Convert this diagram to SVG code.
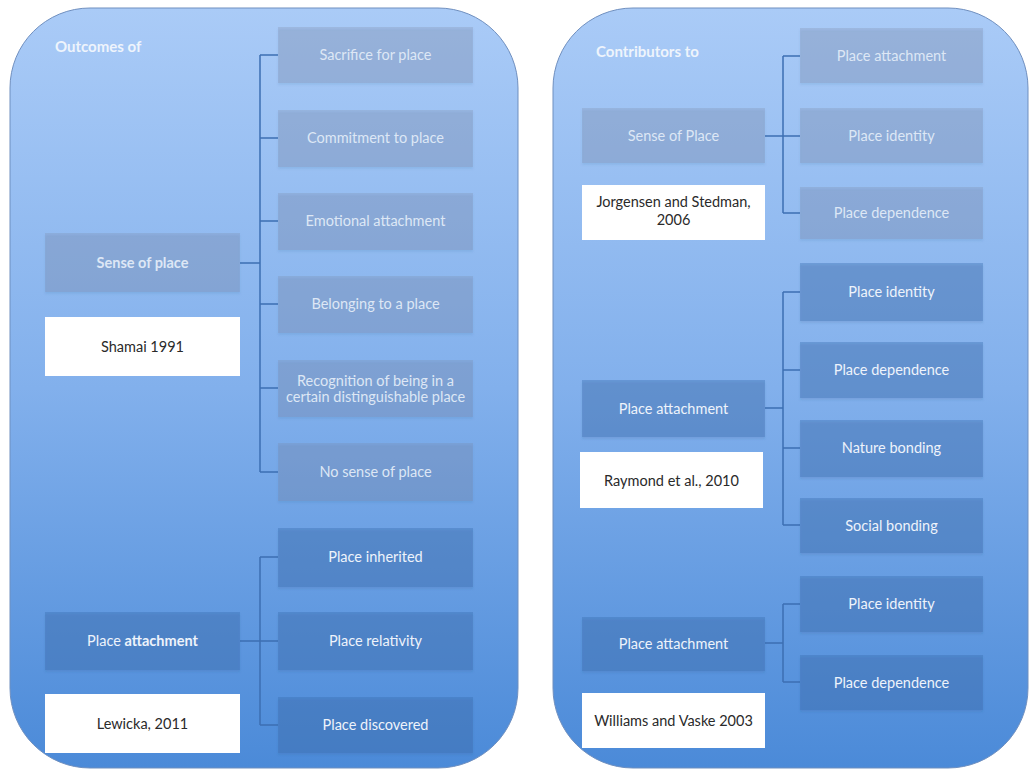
<svg xmlns="http://www.w3.org/2000/svg" width="1030" height="769" viewBox="0 0 1030 769">
  <defs>
    <linearGradient id="panelFill" x1="0" y1="0" x2="0" y2="1">
      <stop offset="0" stop-color="#aacbf7"/>
      <stop offset="0.5" stop-color="#82b0ec"/>
      <stop offset="1" stop-color="#4b8ad8"/>
    </linearGradient>
    <filter id="shadow" x="-5%" y="-10%" width="110%" height="130%">
      <feDropShadow dx="0" dy="2" stdDeviation="1.2" flood-color="#2c4f80" flood-opacity="0.35"/>
    </filter>
    <style>
      .panel { fill: url(#panelFill); stroke: #6f8fbf; stroke-width: 1; }
      .title { font-family: Lato, "Liberation Sans", sans-serif; font-size: 15px; font-weight: bold; fill: #eef4fc; }
      .faded rect { fill: #78829f; fill-opacity: 0.25; filter: url(#shadow); }
      .faded text { fill: #dde7f5; }
      .dark rect { fill: #3c6eaf; fill-opacity: 0.38; filter: url(#shadow); }
      .dark text { fill: #eef3fb; }
      .ref rect { fill: #ffffff; }
      .ref text { fill: #2a2a2a; }
      text { font-family: Lato, "Liberation Sans", sans-serif; font-size: 14.5px; text-anchor: middle; }
      .conn { fill: none; stroke: #3d6fb3; stroke-width: 1.5; }
    </style>
  </defs>

  <rect width="1030" height="769" fill="#ffffff"/>

  <!-- panels -->
  <rect class="panel" x="10" y="8" width="508" height="760" rx="80" ry="80"/>
  <rect class="panel" x="553" y="8" width="475" height="760" rx="80" ry="80"/>

  <text class="title" x="55" y="52" style="text-anchor:start">Outcomes of</text>
  <text class="title" x="596" y="57" style="text-anchor:start">Contributors to</text>

  <!-- connectors -->
  <g id="connectors">
    <path class="conn" d="M240 263 H260 M260 55 V472 M260 55 H278 M260 138 H278 M260 221 H278 M260 304 H278 M260 388 H278 M260 472 H278"/>
    <path class="conn" d="M240 641 H278 M260 557 V725 M260 557 H278 M260 725 H278"/>
    <path class="conn" d="M765 136 H800 M783 56 V213 M783 56 H800 M783 213 H800"/>
    <path class="conn" d="M765 408 H783 M783 292 V525 M783 292 H800 M783 370 H800 M783 448 H800 M783 525 H800"/>
    <path class="conn" d="M765 643 H783 M783 604 V682 M783 604 H800 M783 682 H800"/>
  </g>

  <!-- left panel: sense of place outcomes -->
  <g id="sense-of-place-left" class="faded"><rect x="45" y="233" width="195" height="59"/><text x="142.5" y="268" style="font-weight:bold">Sense of place</text></g>
  <g id="shamai" class="ref"><rect x="45" y="317" width="195" height="59"/><text x="142.5" y="352">Shamai 1991</text></g>
  <g id="sacrifice" class="faded"><rect x="278" y="27" width="195" height="56"/><text x="375.5" y="60">Sacrifice for place</text></g>
  <g id="commitment" class="faded"><rect x="278" y="110" width="195" height="57"/><text x="375.5" y="143">Commitment to place</text></g>
  <g id="emotional" class="faded"><rect x="278" y="193" width="195" height="57"/><text x="375.5" y="226">Emotional attachment</text></g>
  <g id="belonging" class="faded"><rect x="278" y="276" width="195" height="57"/><text x="375.5" y="309">Belonging to a place</text></g>
  <g id="recognition" class="faded"><rect x="278" y="360" width="195" height="57"/><text x="375.5" y="386">Recognition of being in a</text><text x="375.5" y="402">certain distinguishable place</text></g>
  <g id="no-sense" class="faded"><rect x="278" y="443" width="195" height="58"/><text x="375.5" y="477">No sense of place</text></g>

  <!-- left panel: place attachment outcomes -->
  <g id="place-attachment-left" class="dark"><rect x="45" y="612" width="195" height="58"/><text x="142.5" y="646">Place <tspan style="font-weight:bold">attachment</tspan></text></g>
  <g id="lewicka" class="ref"><rect x="45" y="694" width="195" height="59"/><text x="142.5" y="729">Lewicka, 2011</text></g>
  <g id="inherited" class="dark"><rect x="278" y="528" width="195" height="59"/><text x="375.5" y="562">Place inherited</text></g>
  <g id="relativity" class="dark"><rect x="278" y="612" width="195" height="58"/><text x="375.5" y="646">Place relativity</text></g>
  <g id="discovered" class="dark"><rect x="278" y="697" width="195" height="56"/><text x="375.5" y="730">Place discovered</text></g>

  <!-- right panel: sense of place contributors -->
  <g id="sense-of-place-right" class="faded"><rect x="582" y="108" width="183" height="55"/><text x="673.5" y="141">Sense of Place</text></g>
  <g id="jorgensen" class="ref"><rect x="582" y="185" width="183" height="55"/><text x="673.5" y="207">Jorgensen and Stedman,</text><text x="673.5" y="225">2006</text></g>
  <g id="attachment-top" class="faded"><rect x="800" y="28" width="183" height="55"/><text x="891.5" y="61">Place attachment</text></g>
  <g id="identity-top" class="faded"><rect x="800" y="108" width="183" height="55"/><text x="891.5" y="141">Place identity</text></g>
  <g id="dependence-top" class="faded"><rect x="800" y="187" width="183" height="52"/><text x="891.5" y="218">Place dependence</text></g>

  <!-- right panel: place attachment contributors (Raymond) -->
  <g id="place-attachment-mid" class="dark"><rect x="582" y="380" width="183" height="57"/><text x="673.5" y="414">Place attachment</text></g>
  <g id="raymond" class="ref"><rect x="580" y="452" width="183" height="56"/><text x="671.5" y="486">Raymond et al., 2010</text></g>
  <g id="identity-mid" class="dark"><rect x="800" y="263" width="183" height="58"/><text x="891.5" y="297">Place identity</text></g>
  <g id="dependence-mid" class="dark"><rect x="800" y="342" width="183" height="56"/><text x="891.5" y="375">Place dependence</text></g>
  <g id="nature" class="dark"><rect x="800" y="420" width="183" height="57"/><text x="891.5" y="453">Nature bonding</text></g>
  <g id="social" class="dark"><rect x="800" y="498" width="183" height="55"/><text x="891.5" y="531">Social bonding</text></g>

  <!-- right panel: place attachment contributors (Williams and Vaske) -->
  <g id="place-attachment-bottom" class="dark"><rect x="582" y="617" width="183" height="54"/><text x="673.5" y="649">Place attachment</text></g>
  <g id="williams" class="ref"><rect x="582" y="693" width="183" height="55"/><text x="673.5" y="726">Williams and Vaske 2003</text></g>
  <g id="identity-bottom" class="dark"><rect x="800" y="576" width="183" height="56"/><text x="891.5" y="609">Place identity</text></g>
  <g id="dependence-bottom" class="dark"><rect x="800" y="655" width="183" height="55"/><text x="891.5" y="688">Place dependence</text></g>
</svg>
